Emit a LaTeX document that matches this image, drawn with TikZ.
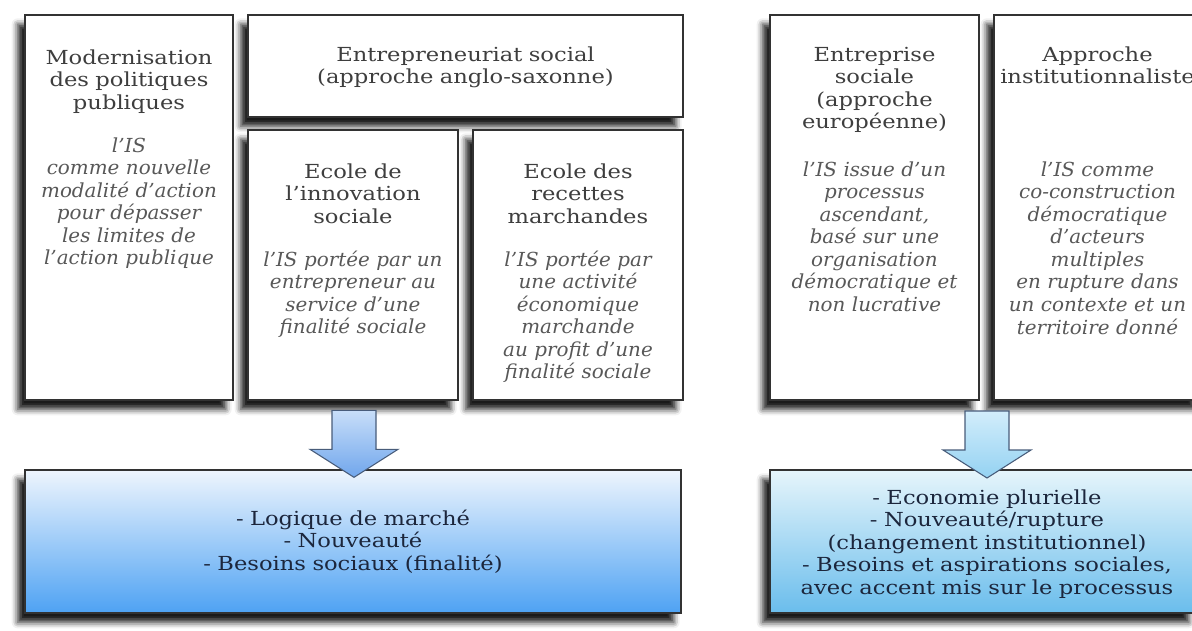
\documentclass[tikz,border=0pt]{standalone}
\usepackage{fontspec}
\setmainfont{DejaVu Serif}[FakeStretch=1.17]
\newfontfamily\bodyfont{DejaVu Serif}[Ligatures=TeX, FakeStretch=1.03]
\usepackage{xcolor}
\usetikzlibrary{positioning,calc,fit,shadows.blur}

\definecolor{frameGray}{RGB}{50,50,50}
\definecolor{headGray}{RGB}{62,62,62}
\definecolor{bodyGray}{RGB}{88,88,88}
\definecolor{navyTxt}{RGB}{28,38,60}
\definecolor{resLTop}{RGB}{238,245,253}
\definecolor{resLMid}{RGB}{178,211,248}
\definecolor{resLBot}{RGB}{78,162,243}
\definecolor{resRTop}{RGB}{230,245,251}
\definecolor{resRMid}{RGB}{180,223,243}
\definecolor{resRBot}{RGB}{106,189,236}
\definecolor{arrLTop}{RGB}{200,222,249}
\definecolor{arrLBot}{RGB}{112,166,236}
\definecolor{arrRTop}{RGB}{210,237,251}
\definecolor{arrRBot}{RGB}{148,210,242}
\definecolor{arrEdge}{RGB}{72,92,122}

\tikzset{
  panel/.style={draw=frameGray, line width=1pt, fill=white, inner sep=0pt,
    blur shadow={shadow xshift=-5.5pt, shadow yshift=-7pt, shadow blur radius=4.5pt, shadow opacity=90}},
  headtxt/.style={text=headGray, align=center, text width=175pt, inner sep=0pt,
    font=\fontsize{14.5}{16.9}\selectfont},
  bodytxt/.style={headtxt, text=bodyGray, font=\fontsize{14.5}{16.9}\bodyfont\itshape},
  restxt/.style={text=navyTxt, align=center, text width=330pt, inner sep=0pt,
    font=\fontsize{14.5}{16.9}\selectfont},
  blockarrow/.style={draw=arrEdge, line width=0.8pt, line join=miter},
}

\begin{document}
\begin{tikzpicture}[x=0.75pt,y=0.75pt,yscale=-1,xscale=1]
\path[use as bounding box, clip] (0,0) rectangle (1192,631);

%Shape: Rectangle [modernisation]
\node[panel, fit={(25,15) (233,400)}] (modBox) {};
%Shape: Rectangle [entrepreneuriat social]
\node[panel, fit={(248,15) (683,117)}] (entBox) {};
%Shape: Rectangle [ecole innovation]
\node[panel, fit={(248,130) (458,400)}] (innoBox) {};
%Shape: Rectangle [ecole recettes]
\node[panel, fit={(473,130) (683,400)}] (recBox) {};
%Shape: Rectangle [entreprise sociale]
\node[panel, fit={(770,15) (979,400)}] (euroBox) {};
%Shape: Rectangle [approche institutionnaliste]
\node[panel, fit={(994,15) (1202,400)}] (instBox) {};

%Shape: Rectangle [results left]
\node[panel, top color=resLTop, middle color=resLMid, bottom color=resLBot,
  fit={(25,470) (681,613)}] (resL) {};
%Shape: Rectangle [results right]
\node[panel, top color=resRTop, middle color=resRMid, bottom color=resRBot,
  fit={(770,470) (1196,613)}] (resR) {};

%Block arrows
\coordinate (tipL) at ($(resL.north)+(1,8)$);
\coordinate (tipR) at (987,478);
\draw[blockarrow, top color=arrLTop, bottom color=arrLBot] (tipL) -- ++(-44,-28) -- ++(22,0) -- ++(0,-39)
  -- ++(44,0) -- ++(0,39) -- ++(22,0) -- cycle;
\draw[blockarrow, top color=arrRTop, bottom color=arrRBot] (tipR) -- ++(-44,-28) -- ++(22,0) -- ++(0,-39)
  -- ++(44,0) -- ++(0,39) -- ++(22,0) -- cycle;

% Text Node
\node[headtxt, anchor=base] (modHead) at ($(modBox.north)+(0,50)$) {Modernisation\\des politiques\\publiques};
% Text Node
\node[bodytxt, anchor=base] (modBody) at ($(modBox.north)+(0,138)$) {l'IS\\comme nouvelle\\modalité d'action\\pour dépasser\\les limites de\\l'action publique};
% Text Node
\node[headtxt, text width=330pt, anchor=base] (entHead) at ($(entBox.north)+(0,47)$) {Entrepreneuriat social\\(approche anglo-saxonne)};
% Text Node
\node[headtxt, anchor=base] (innoHead) at ($(innoBox.north)+(0,49)$) {Ecole de\\l'innovation\\sociale};
% Text Node
\node[bodytxt, anchor=base] (innoBody) at ($(innoBox.north)+(0,137)$) {l'IS portée par un\\entrepreneur au\\service d'une\\finalité sociale};
% Text Node
\node[headtxt, anchor=base] (recHead) at ($(recBox.north)+(0,49)$) {Ecole des\\recettes\\marchandes};
% Text Node
\node[bodytxt, anchor=base] (recBody) at ($(recBox.north)+(0,137)$) {l'IS portée par\\une activité\\économique\\marchande\\au profit d'une\\finalité sociale};
% Text Node
\node[headtxt, anchor=base] (euroHead) at ($(euroBox.north)+(0,47)$) {Entreprise\\sociale\\(approche\\européenne)};
% Text Node
\node[bodytxt, anchor=base] (euroBody) at ($(euroBox.north)+(0,162)$) {l'IS issue d'un\\processus\\ascendant,\\basé sur une\\organisation\\démocratique et\\non lucrative};
% Text Node
\node[headtxt, anchor=base] (instHead) at ($(euroBox.north)+(223,47)$) {Approche\\institutionnaliste};
% Text Node
\node[bodytxt, anchor=base] (instBody) at ($(euroBox.north)+(223,162)$) {l'IS comme\\co-construction\\démocratique\\d'acteurs\\multiples\\en rupture dans\\un contexte et un\\territoire donné};
% Text Node
\node[restxt] (resLTxt) at (resL.center) {- Logique de marché\\- Nouveauté\\- Besoins sociaux (finalité)};
% Text Node
\node[restxt] (resRTxt) at ($(tipR)+(0,66)$) {- Economie plurielle\\- Nouveauté/rupture\\(changement institutionnel)\\- Besoins et aspirations sociales,\\avec accent mis sur le processus};

\end{tikzpicture}
\end{document}
